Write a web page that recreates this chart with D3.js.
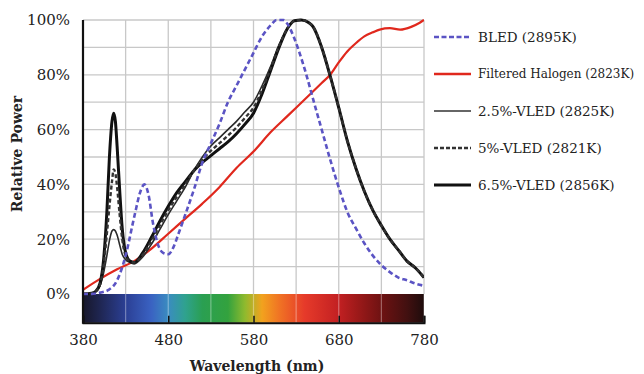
<!DOCTYPE html>
<html>
<head>
<meta charset="utf-8">
<script src="https://cdn.jsdelivr.net/npm/d3@7"></script>
<style>
  html, body { margin: 0; padding: 0; background: #ffffff; }
  svg { display: block; }
  text { font-family: "DejaVu Serif", "Liberation Serif", serif; fill: #222; }
</style>
</head>
<body>
<svg id="chart" width="644" height="374"></svg>
<script>
// ---- Data ----
const xTicks = [380, 480, 580, 680, 780];
const yTicks = [0, 20, 40, 60, 80, 100];
const yTickLabels = ["0%", "20%", "40%", "60%", "80%", "100%"];

const bledWl  = [380,390,400,410,420,430,440,448,452,457,462,468,474,480,486,492,500,510,520,530,540,550,560,570,580,590,600,607,615,620,627,634,642,650,660,670,682,690,700,710,720,730,740,750,760,770,780];
const bledVal = [0,0,0.5,1.5,5,14,28,38,40,36,26,18,15,14.5,17,22,29,38,48,55,62,70,76,82,88,94,98,100,100,98.5,94,88,80,71,60,49,37,30,24,18.5,14,10.5,8,6,5,3.8,3];

const halWl  = [380,400,420,440,460,480,500,520,540,560,580,600,620,640,660,670,680,690,700,710,720,728,740,752,765,775,780];
const halVal = [1.5,5.5,9,12,16.5,22,27.5,33,39,46,52,59,65,71,77,80,84.5,88.5,91.5,94,95.5,96.5,97,96.5,97.5,99,100];

const vledWl = [380,390,395,400,404,408,411,414,416,418,420,423,426,430,435,440,450,460,470,480,490,500,510,520,530,540,550,560,570,580,590,600,610,620,628,636,645,650,660,670,680,690,700,710,720,730,740,750,760,770,780];
const vled25 = [0,0.2,1,3,7.5,14,19.5,23,23.5,23,21.5,18,14.5,12.5,11.5,11,13.5,18,23.5,29,34,39,45,50,54,57,60,63,66.5,70,76,83,91,97,99.7,100,99,97.5,90,79.5,68,56,46,37.5,30.5,25,20,16,12,9.5,6];
const vled5  = [0,0.2,1,3.5,10,22,32,41,45.5,44,39,29,20,14,12,11.5,14.3,19.3,25,30.5,35.5,40,45,49,52.3,55,57.8,60.8,64.3,68,74.5,82.3,90.5,97,99.7,100,99,97.5,90,79.5,68,56,46,37.5,30.5,25,20,16,12,9.5,6];
const vled65 = [0,0.3,1,4,12,30,50,63,66,63,54,38,24,15,12,11.5,15,20.5,26.5,32,37,41,45,48,50.5,53,55.5,58.5,62,66,73,81.5,90,97,99.7,100,99,97.5,90,79.5,68,56,46,37.5,30.5,25,20,16,12,9.5,6];

const legendNames = ["BLED (2895K)", "Filtered Halogen (2823K)", "2.5%-VLED (2825K)", "5%-VLED (2821K)", "6.5%-VLED (2856K)"];

// spectrum colour stops (wavelength -> colour)
const specWl  = [380,400,430,460,480,500,520,550,570,590,610,640,680,700,730,760,780];
const specCol = ["#17172a","#1f2652","#2b3f94","#3a62c2","#3a8cc0","#2fa28e","#2a9f52","#33a23e","#8fba2e","#f2a21e","#f07424","#e63a2a","#c22022","#a01a1a","#6e1212","#421010","#1e0c0c"];

// ---- Layout ----
const svg = d3.select("#chart");
const x = d3.scaleLinear().domain([380, 780]).range([83, 424]);
const y = d3.scaleLinear().domain([0, 100]).range([294, 20]);
const barBottom = y(-10.5);

const series = [
  {wl: halWl,  v: halVal, color: "#e0281d", width: 2.2, dash: null},
  {wl: vledWl, v: vled25, color: "#2a2a2a", width: 1.6, dash: null},
  {wl: vledWl, v: vled65, color: "#111111", width: 3, dash: null},
  {wl: vledWl, v: vled5,  color: "#333333", width: 2.4, dash: "4,2.5"},
  {wl: bledWl, v: bledVal, color: "#5b54c4", width: 2.6, dash: "5,3"}
];

// spectrum gradient
const defs = svg.append("defs");
const grad = defs.append("linearGradient").attr("id", "spec")
  .attr("gradientUnits", "userSpaceOnUse")
  .attr("x1", x(380)).attr("x2", x(780)).attr("y1", 0).attr("y2", 0);
specWl.forEach((w, i) => {
  grad.append("stop").attr("offset", (w - 380) / 400).attr("stop-color", specCol[i]);
});
const clip = defs.append("clipPath").attr("id", "plotclip");
clip.append("rect").attr("x", x(380)).attr("y", y(100) - 2).attr("width", x(780) - x(380)).attr("height", y(-10.5) - y(100) + 2);

svg.append("rect")
  .attr("x", x(380)).attr("y", y(0))
  .attr("width", x(780) - x(380)).attr("height", barBottom - y(0))
  .attr("fill", "url(#spec)");

// grid
const gx = d3.range(430, 781, 50);
const gy = d3.range(10, 101, 10);
svg.append("g").selectAll("line").data(gy).join("line")
  .attr("x1", x(380)).attr("x2", x(780))
  .attr("y1", d => y(d)).attr("y2", d => y(d))
  .attr("stroke", "#c8c8c8").attr("stroke-width", 1.3);
svg.append("g").selectAll("line").data(gx).join("line")
  .attr("x1", d => x(d)).attr("x2", d => x(d))
  .attr("y1", y(100)).attr("y2", y(0))
  .attr("stroke", "#c8c8c8").attr("stroke-width", 1.3);
svg.append("g").selectAll("line").data(gx).join("line")
  .attr("x1", d => x(d)).attr("x2", d => x(d))
  .attr("y1", y(0)).attr("y2", barBottom)
  .attr("stroke", "#ffffff").attr("stroke-opacity", 0.35).attr("stroke-width", 1.2);

// curves
const line = d3.line().curve(d3.curveMonotoneX);
const plot = svg.append("g").attr("clip-path", "url(#plotclip)");
series.forEach(s => {
  const pts = s.wl.map((w, i) => [x(w), y(s.v[i])]);
  plot.append("path")
    .attr("d", line(pts))
    .attr("fill", "none")
    .attr("stroke", s.color)
    .attr("stroke-width", s.width)
    .attr("stroke-dasharray", s.dash)
    .attr("stroke-linejoin", "round");
});

// axes
const xAxis = d3.axisBottom(x).tickValues(xTicks).tickSize(-7).tickFormat(d3.format("d")).tickPadding(12);
const gX = svg.append("g").attr("transform", `translate(0,${barBottom})`).call(xAxis);
gX.select(".domain").attr("stroke", "#111").attr("stroke-width", 2);
gX.selectAll(".tick line").attr("stroke", "#111").attr("stroke-width", 1.5);
gX.selectAll("text").attr("font-size", 15).attr("fill", "#333").attr("font-family", "DejaVu Serif");

const yAxis = d3.axisLeft(y).tickValues(yTicks).tickSize(0).tickPadding(13)
  .tickFormat((d, i) => yTickLabels[i]);
const gY = svg.append("g").attr("transform", `translate(${x(380)},0)`).call(yAxis);
gY.select(".domain").remove();
gY.selectAll("text").attr("font-size", 15).attr("fill", "#333").attr("font-family", "DejaVu Serif");
svg.append("line").attr("x1", x(380)).attr("x2", x(380)).attr("y1", y(100)).attr("y2", barBottom + 1)
  .attr("stroke", "#111").attr("stroke-width", 2.2);

// axis titles
svg.append("text").attr("x", 257).attr("y", 371).attr("text-anchor", "middle")
  .attr("font-size", 14).attr("font-weight", "bold").attr("fill", "#111")
  .text("Wavelength (nm)");
svg.append("text").attr("transform", "translate(22,154) rotate(-90)").attr("text-anchor", "middle")
  .attr("font-size", 14).attr("font-weight", "bold").attr("fill", "#111")
  .text("Relative Power");

// legend
const legStyles = [
  {color: "#5b54c4", width: 2.6, dash: "5,2.5", size: 13.5},
  {color: "#e0281d", width: 2.4, dash: null,    size: 12},
  {color: "#333333", width: 1.6, dash: null,    size: 13.5},
  {color: "#333333", width: 2.6, dash: "4,2",   size: 13.5},
  {color: "#111111", width: 3,   dash: null,    size: 13.5}
];
const leg = svg.append("g");
legendNames.forEach((name, i) => {
  const ly = 37 + i * 37;
  leg.append("line").attr("x1", 434).attr("x2", 471).attr("y1", ly).attr("y2", ly)
    .attr("stroke", legStyles[i].color).attr("stroke-width", legStyles[i].width)
    .attr("stroke-dasharray", legStyles[i].dash);
  leg.append("text").attr("x", 478).attr("y", ly).attr("dy", "0.35em")
    .attr("font-size", legStyles[i].size).attr("fill", "#222")
    .text(name);
});
</script>
</body>
</html>
